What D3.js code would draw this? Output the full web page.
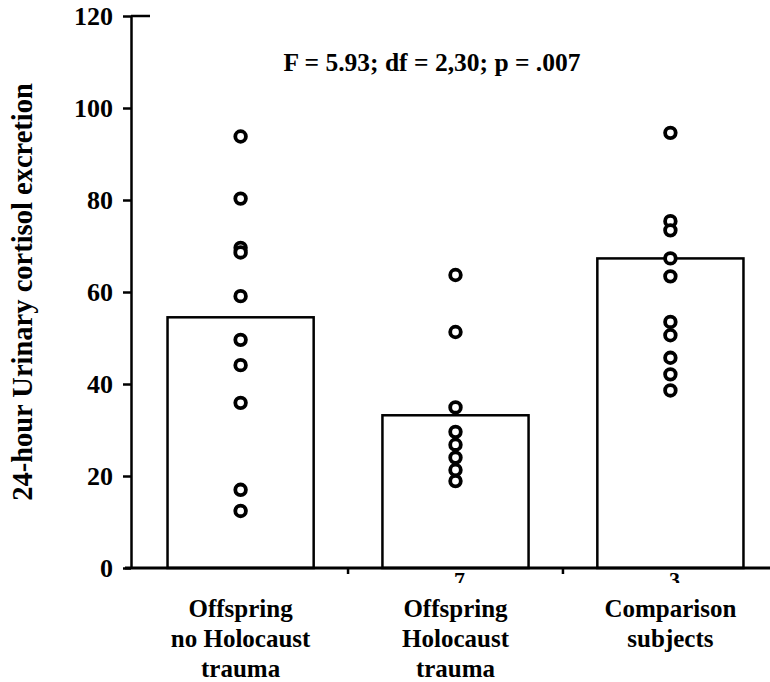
<!DOCTYPE html>
<html>
<head>
<meta charset="utf-8">
<script src="https://d3js.org/d3.v7.min.js"></script>
<style>
  body { margin: 0; background: #fff; }
  svg { display: block; }
</style>
</head>
<body>
<div id="chart"></div>
<script>
// groups and their labels (one line each entry)
const groups = ["g1", "g2", "g3"];
const groupLabels = [
    ["Offspring", "no Holocaust", "trauma"],
    ["Offspring", "Holocaust", "trauma"],
    ["Comparison", "subjects"]
];
// bar heights (group means)
const means = [54.5, 33.2, 67.3];
// individual subjects per group
const pointsG1 = [93.8, 80.3, 69.6, 68.6, 59.1, 49.6, 44.1, 35.9, 17.0, 12.4];
const pointsG2 = [63.7, 51.3, 34.9, 29.6, 26.8, 24.0, 21.3, 18.9];
const pointsG3 = [94.6, 75.4, 73.4, 67.3, 63.4, 53.5, 50.6, 45.7, 42.1, 38.6];
const yTicks = [0, 20, 40, 60, 80, 100, 120];
const statText = "F = 5.93; df = 2,30; p = .007";
const strayMarks = ["", "7", "3"];

const W = 770, H = 682;
const FONT = "'Liberation Serif', 'Times New Roman', Times, 'DejaVu Serif', serif";

const svg = d3.select("#chart")
    .append("svg")
    .attr("width", W)
    .attr("height", H);

const y = d3.scaleLinear()
    .domain([0, 120])
    .range([568, 16]);

const x = d3.scaleBand()
    .domain(groups)
    .range([131, 780])
    .paddingInner(0.32)
    .paddingOuter(0.17);

// bars
svg.selectAll("rect.bar")
    .data(groups)
    .join("rect")
    .attr("class", "bar")
    .attr("x", d => x(d))
    .attr("y", (d, i) => y(means[i]))
    .attr("width", x.bandwidth())
    .attr("height", (d, i) => y(0) - y(means[i]))
    .attr("fill", "#fff")
    .attr("stroke", "#000")
    .attr("stroke-width", 2.5);

// y axis
const yAxis = svg.append("g")
    .attr("transform", "translate(131,0)")
    .call(d3.axisLeft(y).tickValues(yTicks).tickSize(8).tickSizeOuter(0).tickPadding(10));
yAxis.select(".domain").attr("stroke-width", 2.5);
yAxis.selectAll(".tick line").attr("stroke-width", 2.5);
yAxis.selectAll(".tick text")
    .style("font-family", FONT)
    .style("font-weight", "bold")
    .style("font-size", "26px")
    .attr("dy", "0.34em");

// short top line
svg.append("line")
    .attr("x1", 131).attr("x2", 150)
    .attr("y1", y(120)).attr("y2", y(120))
    .attr("stroke", "#000").attr("stroke-width", 2.5);

// x axis line
svg.append("line")
    .attr("x1", 125).attr("x2", W)
    .attr("y1", y(0)).attr("y2", y(0))
    .attr("stroke", "#000").attr("stroke-width", 3);

// small ticks between groups
const step = x.step();
svg.selectAll("line.xtick")
    .data(groups.slice(0, 2))
    .join("line")
    .attr("class", "xtick")
    .attr("x1", d => x(d) + x.bandwidth() / 2 + step / 2)
    .attr("x2", d => x(d) + x.bandwidth() / 2 + step / 2)
    .attr("y1", y(0)).attr("y2", y(0) + 6)
    .attr("stroke", "#000").attr("stroke-width", 2.5);

// clipped stray marks below axis
svg.append("clipPath").attr("id", "clipMarks")
    .append("rect").attr("x", 0).attr("y", y(0)).attr("width", W).attr("height", 15);
svg.append("g").attr("clip-path", "url(#clipMarks)")
    .selectAll("text")
    .data(strayMarks)
    .join("text")
    .attr("x", (d, i) => x(groups[i]) + x.bandwidth() / 2 + 4)
    .attr("y", y(0) + 19)
    .attr("text-anchor", "middle")
    .style("font-family", FONT)
    .style("font-weight", "bold")
    .style("font-size", "22px")
    .text(d => d);

// subject points
const allPoints = [pointsG1, pointsG2, pointsG3];
allPoints.forEach((pts, i) => {
    svg.append("g")
        .selectAll("circle")
        .data(pts)
        .join("circle")
        .attr("cx", x(groups[i]) + x.bandwidth() / 2)
        .attr("cy", d => y(d))
        .attr("r", 5.3)
        .attr("fill", "#fff")
        .attr("stroke", "#000")
        .attr("stroke-width", 3.8);
});

// category labels
groupLabels.forEach((lines, i) => {
    const t = svg.append("text")
        .attr("text-anchor", "middle")
        .style("font-family", FONT)
        .style("font-weight", "bold")
        .style("font-size", "25px");
    lines.forEach((l, j) => {
        t.append("tspan")
            .attr("x", x(groups[i]) + x.bandwidth() / 2)
            .attr("y", 617 + j * 30)
            .text(l);
    });
});

// stats annotation
svg.append("text")
    .attr("x", 432)
    .attr("y", 71)
    .attr("text-anchor", "middle")
    .style("font-family", FONT)
    .style("font-weight", "bold")
    .style("font-size", "25.5px")
    .text(statText);

// y label
svg.append("text")
    .attr("transform", `translate(32,${y(60)}) rotate(-90)`)
    .attr("text-anchor", "middle")
    .style("font-family", FONT)
    .style("font-weight", "bold")
    .style("font-size", "28.5px")
    .text("24-hour Urinary cortisol excretion");
</script>
</body>
</html>
